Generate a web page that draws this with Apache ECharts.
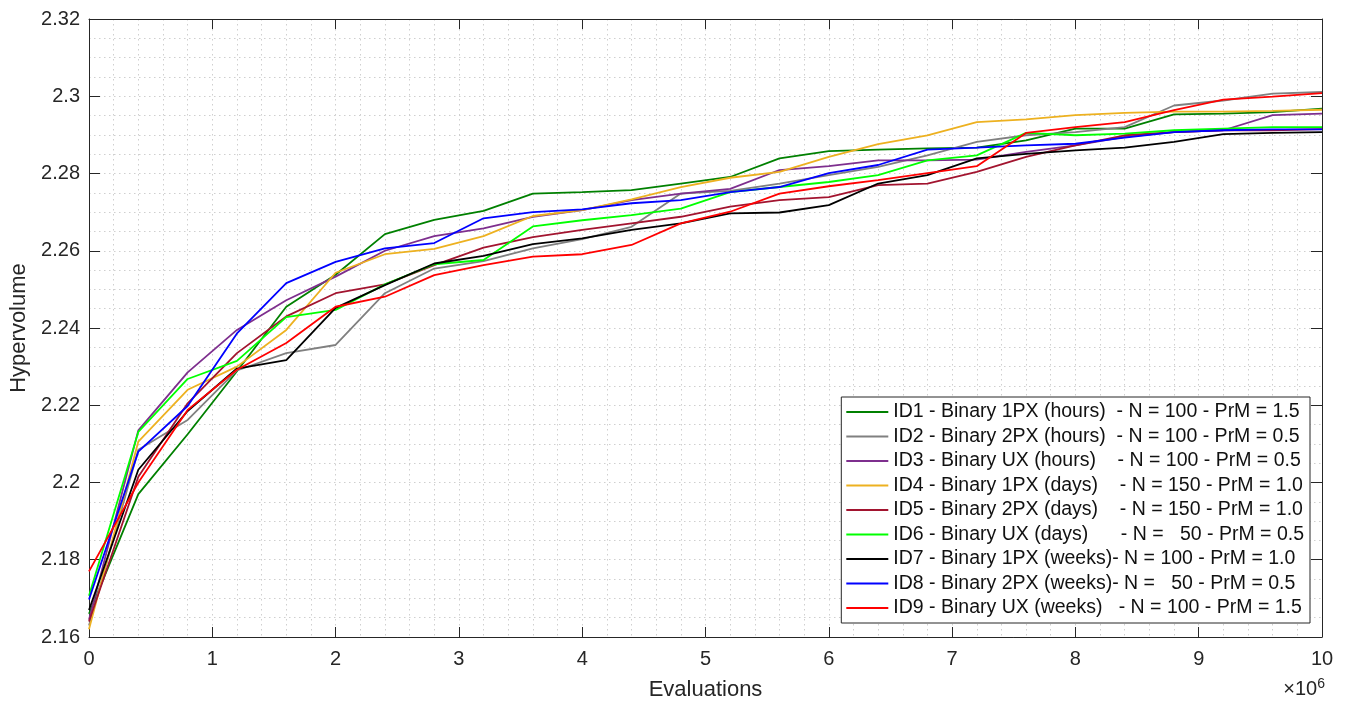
<!DOCTYPE html>
<html>
<head>
<meta charset="utf-8">
<script src="https://cdn.jsdelivr.net/npm/echarts@6/dist/echarts.min.js"></script>
<style>
  body { margin: 0; background: #fff; }
  #main { width: 1349px; height: 707px; }
</style>
</head>
<body>
<div id="main"></div>
<script>
  // evaluations, in units of 10^6
  let evaluations = [0, 0.4, 0.8, 1.2, 1.6, 2.0, 2.4, 2.8, 3.2, 3.6, 4.0, 4.4, 4.8,
    5.2, 5.6, 6.0, 6.4, 6.8, 7.2, 7.6, 8.0, 8.4, 8.8, 9.2, 9.6, 10.0];

  let seriesNames = [
    'ID1 - Binary 1PX (hours)  - N = 100 - PrM = 1.5',
    'ID2 - Binary 2PX (hours)  - N = 100 - PrM = 0.5',
    'ID3 - Binary UX (hours)    - N = 100 - PrM = 0.5',
    'ID4 - Binary 1PX (days)    - N = 150 - PrM = 1.0',
    'ID5 - Binary 2PX (days)    - N = 150 - PrM = 1.0',
    'ID6 - Binary UX (days)      - N =   50 - PrM = 0.5',
    'ID7 - Binary 1PX (weeks)- N = 100 - PrM = 1.0',
    'ID8 - Binary 2PX (weeks)- N =   50 - PrM = 0.5',
    'ID9 - Binary UX (weeks)   - N = 100 - PrM = 1.5'
  ];

  // hypervolume per configuration
  let hvID1 = [2.166, 2.197, 2.2125, 2.2288, 2.2455, 2.2538, 2.2643, 2.2680, 2.2703, 2.2748, 2.2752, 2.2757, 2.2774,
    2.2791, 2.2839, 2.2858, 2.2862, 2.2865, 2.2867, 2.2886, 2.2916, 2.2916, 2.2953, 2.2955, 2.2959, 2.2968];
  let hvID2 = [2.163, 2.2085, 2.2162, 2.2290, 2.2335, 2.2356, 2.2490, 2.2554, 2.2573, 2.2606, 2.2630, 2.2662, 2.2748,
    2.2755, 2.2774, 2.2796, 2.2817, 2.2847, 2.2882, 2.2899, 2.2907, 2.2920, 2.2976, 2.2989, 2.3007, 2.3011];
  let hvID3 = [2.1645, 2.2135, 2.2285, 2.2395, 2.2472, 2.2533, 2.2600, 2.2638, 2.2658, 2.2688, 2.2705, 2.2731, 2.2748,
    2.2760, 2.2809, 2.2819, 2.2834, 2.2834, 2.2836, 2.2856, 2.2873, 2.2895, 2.2907, 2.2912, 2.2951, 2.2955];
  let hvID4 = [2.162, 2.2106, 2.2240, 2.2300, 2.2395, 2.2543, 2.2591, 2.2605, 2.2638, 2.2690, 2.2705, 2.2733, 2.2765,
    2.2789, 2.2804, 2.2843, 2.2876, 2.2899, 2.2933, 2.2940, 2.2951, 2.2957, 2.2960, 2.2960, 2.2962, 2.2965];
  let hvID5 = [2.164, 2.2015, 2.2205, 2.2335, 2.2430, 2.2490, 2.2513, 2.2563, 2.2608, 2.2635, 2.2654, 2.2671, 2.2688,
    2.2714, 2.2731, 2.2739, 2.2770, 2.2774, 2.2804, 2.2843, 2.2873, 2.2899, 2.2907, 2.2912, 2.2912, 2.2915];
  let hvID6 = [2.1707, 2.2131, 2.2268, 2.2315, 2.2428, 2.2447, 2.2513, 2.2565, 2.2576, 2.2663, 2.2679, 2.2692, 2.2709,
    2.2752, 2.2765, 2.2778, 2.2796, 2.2834, 2.2847, 2.2905, 2.2899, 2.2903, 2.2912, 2.2916, 2.2920, 2.2920];
  let hvID7 = [2.167, 2.2033, 2.2185, 2.2295, 2.2317, 2.2452, 2.2511, 2.2567, 2.2587, 2.2617, 2.2632, 2.2654, 2.2671,
    2.2697, 2.2699, 2.2718, 2.2774, 2.2796, 2.2839, 2.2851, 2.2860, 2.2867, 2.2882, 2.2902, 2.2905, 2.2907];
  let hvID8 = [2.1697, 2.2080, 2.2198, 2.2386, 2.2516, 2.2571, 2.2606, 2.2620, 2.2684, 2.2700, 2.2707, 2.2723, 2.2731,
    2.2752, 2.2765, 2.2801, 2.2822, 2.2862, 2.2867, 2.2873, 2.2877, 2.2893, 2.2907, 2.2912, 2.2914, 2.2914];
  let hvID9 = [2.177, 2.2000, 2.2188, 2.2292, 2.2361, 2.2455, 2.2481, 2.2537, 2.2563, 2.2585, 2.2591, 2.2615, 2.2671,
    2.2701, 2.2748, 2.2767, 2.2783, 2.2801, 2.2819, 2.2905, 2.2920, 2.2933, 2.2964, 2.2991, 2.2999, 2.3008];

  let allHv = [hvID1, hvID2, hvID3, hvID4, hvID5, hvID6, hvID7, hvID8, hvID9];
  let colors = ['#008000', '#808080', '#7E2F8E', '#EDB120', '#A2142F', '#00FF00', '#000000', '#0000FF', '#FF0000'];

  let chart = echarts.init(document.getElementById('main'));
  let font = 'Liberation Sans, Arial, Helvetica, sans-serif';
  let axisColor = '#262626';
  let gridLine = { show: true, lineStyle: { color: '#cfcfcf', width: 1, type: [1.5, 3.5] } };

  let series = allHv.map((hv, i) => {
    return {
      name: seriesNames[i],
      type: 'line',
      xAxisIndex: 0,
      yAxisIndex: 0,
      symbol: 'none',
      silent: true,
      lineStyle: { width: 1.8, color: colors[i] },
      itemStyle: { color: colors[i] },
      data: evaluations.map((x, k) => [x, hv[k]])
    };
  });

  let option = {
    animation: false,
    textStyle: { fontFamily: font },
    grid: { left: 89, right: 27, top: 19, bottom: 70 },
    xAxis: [{
      type: 'value', min: 0, max: 10, interval: 1,
      name: 'Evaluations', nameLocation: 'middle', nameGap: 42,
      nameTextStyle: { fontSize: 22, color: axisColor },
      axisLine: { show: true, onZero: false, lineStyle: { color: axisColor, width: 1 } },
      axisTick: { show: true, inside: true, length: 10, lineStyle: { color: axisColor } },
      axisLabel: { fontSize: 20, color: axisColor, margin: 12 },
      splitLine: gridLine,
      minorTick: { show: false, splitNumber: 5 },
      minorSplitLine: gridLine
    }, {
      type: 'value', min: 0, max: 10, interval: 1, position: 'top',
      axisLine: { show: true, onZero: false, lineStyle: { color: axisColor, width: 1 } },
      axisTick: { show: true, inside: true, length: 10, lineStyle: { color: axisColor } },
      axisLabel: { show: false },
      splitLine: { show: false }
    }],
    yAxis: [{
      type: 'value', min: 2.16, max: 2.32, interval: 0.02,
      name: 'Hypervolume', nameLocation: 'middle', nameGap: 53,
      nameTextStyle: { fontSize: 22, color: axisColor },
      axisLine: { show: true, onZero: false, lineStyle: { color: axisColor, width: 1 } },
      axisTick: { show: true, inside: true, length: 11, lineStyle: { color: axisColor } },
      axisLabel: { fontSize: 20, color: axisColor, margin: 9, formatter: v => String(parseFloat(v.toFixed(2))) },
      splitLine: gridLine,
      minorTick: { show: false, splitNumber: 4 },
      minorSplitLine: gridLine
    }, {
      type: 'value', min: 2.16, max: 2.32, interval: 0.02, position: 'right',
      axisLine: { show: true, onZero: false, lineStyle: { color: axisColor, width: 1 } },
      axisTick: { show: true, inside: true, length: 11, lineStyle: { color: axisColor } },
      axisLabel: { show: false },
      splitLine: { show: false }
    }],
    legend: {
      orient: 'vertical',
      right: 39,
      bottom: 84,
      padding: [5, 6, 5, 5],
      itemGap: 4.5,
      itemWidth: 42,
      itemHeight: 2,
      icon: 'rect',
      selectedMode: false,
      backgroundColor: '#fff',
      borderColor: axisColor,
      borderWidth: 1,
      borderRadius: 0,
      textStyle: { fontSize: 19.5, lineHeight: 19, color: '#111', fontFamily: font },
      data: seriesNames
    },
    graphic: [{
      type: 'text',
      right: 24,
      top: 677,
      style: {
        text: '×10{s|6}',
        fill: axisColor,
        font: '20px ' + font,
        rich: { s: { fontSize: 14, verticalAlign: 'top', padding: [0, 0, 10, 0] } }
      }
    }],
    series: series
  };
  chart.setOption(option);
</script>
</body>
</html>
